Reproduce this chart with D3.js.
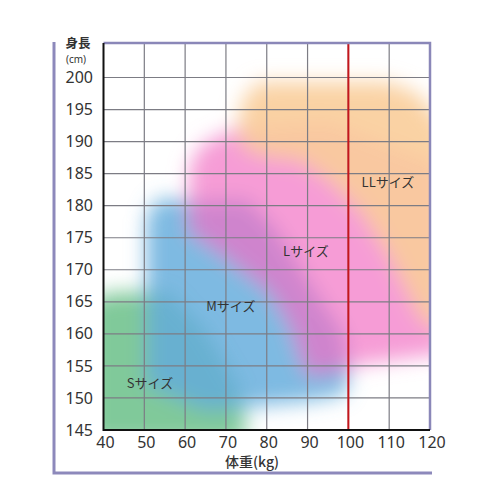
<!DOCTYPE html>
<html>
<head>
<meta charset="utf-8">
<script src="https://cdn.jsdelivr.net/npm/d3@7"></script>
<style>
  body { margin: 0; background: #fff; }
  svg { display: block; font-family: "Noto Sans CJK JP", "Noto Sans", sans-serif; }
  .num { font-family: "Noto Sans", sans-serif; }
</style>
</head>
<body>
<svg id="chart" width="500" height="500"></svg>
<script>
// axis ticks
const xTicks = [40, 50, 60, 70, 80, 90, 100, 110, 120];
const yTicks = [145, 150, 155, 160, 165, 170, 175, 180, 185, 190, 195, 200];
const limitWeight = 100;

// size zones, outlines as [kg, cm]
const sizeNames = ["Sサイズ", "Mサイズ", "Lサイズ", "LLサイズ"];
const labelKg = [51.4, 71.2, 89.6, 109.7];
const labelCm = [152.2, 164.2, 172.8, 183.6];

const zoneS = [[36, 143], [36, 165], [42, 166.5], [56, 166.5], [65, 160.5], [73, 152], [75, 146], [74, 143]];
const zoneM = [[50.5, 152], [50.5, 178], [53, 181], [75, 181], [82, 176.5], [92, 166.5], [99, 160], [100.5, 154], [99, 150.5], [90, 149.5], [65, 148]];
const zoneL = [[61, 176], [61, 186], [64, 189.5], [72, 192], [95, 193], [124, 186], [124, 157], [112, 156], [100, 155], [90, 153.5], [88, 157], [86, 161], [81, 166.5], [70, 172]];
const zoneML = [[61, 180.5], [75, 181], [82, 176.5], [92, 166.5], [99, 160], [100, 154], [90, 153.5], [88, 157], [86, 161], [81, 166.5], [70, 172], [61, 176]];
const zoneLL = [[73, 192], [74, 196.5], [78, 199.3], [110, 199.3], [117, 197.5], [124, 192], [124, 160], [118, 162], [110, 172], [103, 179], [95, 184], [88, 187], [80, 187.5], [74, 189]];

const svg = d3.select("#chart");
const pl = 103.5, pr = 430, pt = 43, pb = 430;

const x = d3.scaleLinear().domain([40, 120]).range([pl, pr]);
const y = d3.scaleLinear().domain([145, 200]).range([pb, 77.5]);

const defs = svg.append("defs");
defs.append("filter").attr("id", "soft")
  .attr("x", "-30%").attr("y", "-30%").attr("width", "160%").attr("height", "160%")
  .append("feGaussianBlur").attr("stdDeviation", 10);
defs.append("clipPath").attr("id", "plot")
  .append("rect").attr("x", pl).attr("y", pt).attr("width", pr - pl).attr("height", pb - pt);

const line = d3.line().x(d => x(d[0])).y(d => y(d[1])).curve(d3.curveLinearClosed);

const zones = svg.append("g").attr("clip-path", "url(#plot)")
  .append("g").attr("filter", "url(#soft)");

const layers = [
  { pts: zoneS, fill: "#80c99a", op: 1 },
  { pts: zoneM, fill: "#62abdc", op: 0.82 },
  { pts: zoneL, fill: "#f597d4", op: 0.95 },
  { pts: zoneML, fill: "#a86cc6", op: 0.45 },
  { pts: zoneLL, fill: "#f9cd9a", op: 0.9 }
];
zones.selectAll("path").data(layers).join("path")
  .attr("d", d => line(d.pts))
  .attr("fill", d => d.fill)
  .attr("fill-opacity", d => d.op);

// grid
svg.append("g").selectAll("line").data(xTicks.slice(1, -1)).join("line")
  .attr("x1", d => x(d)).attr("x2", d => x(d))
  .attr("y1", pt).attr("y2", pb)
  .attr("stroke", "#7c7c84").attr("stroke-width", 1.2);
svg.append("g").selectAll("line").data(yTicks.slice(1)).join("line")
  .attr("x1", pl).attr("x2", pr)
  .attr("y1", d => y(d)).attr("y2", d => y(d))
  .attr("stroke", "#7c7c84").attr("stroke-width", 1.2);

// limit line
svg.append("line")
  .attr("x1", x(limitWeight)).attr("x2", x(limitWeight))
  .attr("y1", pt).attr("y2", pb)
  .attr("stroke", "#c4161c").attr("stroke-width", 2);

// plot frame
svg.append("path")
  .attr("d", `M${pl},${pt}H${pr}V${pb}`)
  .attr("fill", "none").attr("stroke", "#8a87b8").attr("stroke-width", 2.5);
svg.append("path")
  .attr("d", `M${pl},${pt}V${pb}H${pr}`)
  .attr("fill", "none").attr("stroke", "#111").attr("stroke-width", 2);

// outer purple bracket
svg.append("path")
  .attr("d", "M54,42V473H432")
  .attr("fill", "none").attr("stroke", "#8d89bb").attr("stroke-width", 3);

// tick labels
svg.append("g").selectAll("text").data(yTicks).join("text")
  .attr("class", "num")
  .attr("x", 93).attr("y", d => y(d)).attr("dy", "0.35em")
  .attr("text-anchor", "end").attr("font-size", 16).attr("fill", "#333")
  .text(d => d);
svg.append("g").selectAll("text").data(xTicks).join("text")
  .attr("class", "num")
  .attr("x", d => x(d) + 2).attr("y", 442).attr("dy", "0.35em")
  .attr("text-anchor", "middle").attr("font-size", 16).attr("fill", "#333")
  .text(d => d);

// axis titles
svg.append("text").attr("x", 78).attr("y", 43.5).attr("dy", "0.35em")
  .attr("text-anchor", "middle").attr("font-size", 12.5).attr("font-weight", 700).attr("fill", "#333")
  .text("身長");
svg.append("text").attr("class", "num").attr("x", 76).attr("y", 59).attr("dy", "0.35em")
  .attr("text-anchor", "middle").attr("font-size", 10).attr("fill", "#333")
  .text("(cm)");
svg.append("text").attr("x", 252).attr("y", 462).attr("dy", "0.35em")
  .attr("text-anchor", "middle").attr("font-size", 14).attr("font-weight", 500).attr("fill", "#333")
  .text("体重(kg)");

// zone labels
svg.append("g").selectAll("text").data(sizeNames).join("text")
  .attr("x", (d, i) => x(labelKg[i])).attr("y", (d, i) => y(labelCm[i])).attr("dy", "0.35em")
  .attr("text-anchor", "middle").attr("font-size", 13).attr("fill", "#333")
  .text(d => d);
</script>
</body>
</html>
